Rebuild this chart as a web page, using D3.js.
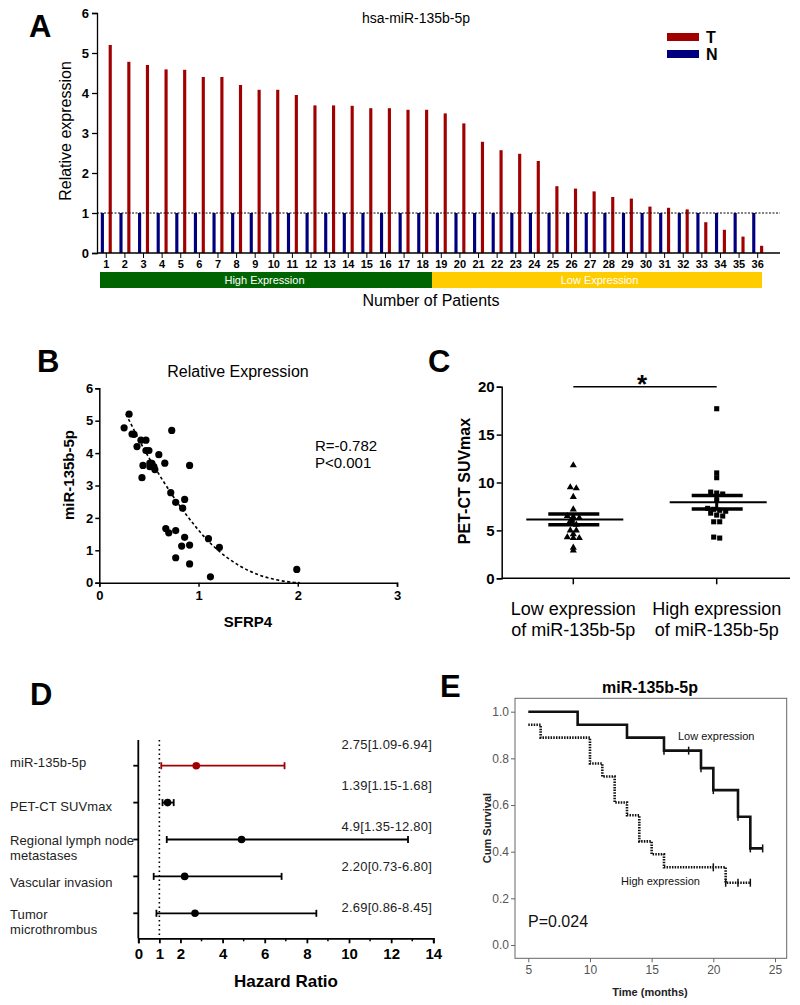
<!DOCTYPE html>
<html>
<head>
<meta charset="utf-8">
<script src="https://cdn.jsdelivr.net/npm/d3@7"></script>
<style>
  body { margin: 0; background: #fff; }
  text { font-family: "Liberation Sans", Arial, sans-serif; }
</style>
</head>
<body>
<script>
// ---------- data ----------
// panel A: relative expression per patient
var patients = d3.range(1, 37).map(String);
var tumorExpr = [5.2, 4.78, 4.7, 4.59, 4.58, 4.4, 4.4, 4.2, 4.08, 4.08, 3.95, 3.69, 3.69, 3.68, 3.62, 3.62, 3.58, 3.58,
                 3.49, 3.24, 2.78, 2.57, 2.48, 2.3, 1.67, 1.61, 1.54, 1.4, 1.36, 1.16, 1.13, 1.09, 0.77, 0.58, 0.41, 0.18];
var normalExpr = patients.map(function(){ return 1; });
var aYTicks = [0, 1, 2, 3, 4, 5, 6];

// panel B: SFRP4 vs miR-135b-5p
var sfrp4 = [0.30, 0.25, 0.73, 0.33, 0.35, 0.42, 0.47, 0.38, 0.47, 0.50, 0.60, 0.66, 0.51, 0.53, 0.44, 0.91, 0.51, 0.55,
             0.56, 0.43, 0.72, 0.86, 0.77, 0.84, 0.67, 0.77, 0.70, 0.86, 1.10, 0.91, 0.83, 1.21, 0.77, 0.91, 1.99, 1.12];
var mirB = tumorExpr;
var fitCurve = [[0.27, 5.2], [0.4, 4.4], [0.5, 3.85], [0.65, 3.1], [0.8, 2.4], [0.95, 1.8], [1.1, 1.25],
                [1.3, 0.72], [1.5, 0.36], [1.7, 0.13], [1.9, 0.02], [2.02, 0]];

// panel C: SUVmax by group
var groupsC = ["Low expression|of miR-135b-5p", "High expression|of miR-135b-5p"];
var suvLow = [11.8, 9.5, 9.4, 8.5, 7.2, 6.5, 6.4, 6.3, 6.0, 5.6, 5.0, 5.0, 4.6, 4.3, 4.2, 4.2, 3.2, 2.9];
var suvHigh = [17.7, 11.0, 10.5, 9.0, 8.9, 8.8, 8.2, 7.3, 7.2, 7.1, 7.0, 6.8, 6.6, 6.5, 5.9, 5.9, 4.3, 4.2];

// panel D: hazard ratios
var factors = ["miR-135b-5p", "PET-CT SUVmax", "Regional lymph node|metastases", "Vascular invasion", "Tumor|microthrombus"];
var hr = [2.75, 1.39, 4.9, 2.20, 2.69];
var ciLow = [1.09, 1.15, 1.35, 0.73, 0.86];
var ciHigh = [6.94, 1.68, 12.80, 6.80, 8.45];
var hrLabels = ["2.75[1.09-6.94]", "1.39[1.15-1.68]", "4.9[1.35-12.80]", "2.20[0.73-6.80]", "2.69[0.86-8.45]"];

// panel E: Kaplan-Meier
var kmLow = [[5, 1], [9, 0.944], [13, 0.889], [16, 0.833], [19, 0.758], [20, 0.664], [22, 0.55], [23, 0.414], [24, 0.414]];
var kmHigh = [[5, 0.944], [6, 0.889], [10, 0.778], [11, 0.722], [12, 0.611], [13, 0.556], [14, 0.444], [15, 0.389], [16, 0.333], [21, 0.267], [23, 0.267]];
var censLow = [[16, 0.833], [18, 0.833], [19, 0.758], [20, 0.664], [22, 0.55], [23, 0.414], [24, 0.414]];
var censHigh = [[20, 0.333], [21, 0.267], [22, 0.267], [23, 0.267]];

var RED = "#a00000", BLUE = "#00007f";

var svg = d3.select("body").append("svg")
    .attr("width", 800).attr("height", 1005)
    .style("background", "#fff");

function panelLetter(t, x, y){
  svg.append("text").attr("x", x).attr("y", y).text(t)
     .attr("font-size", 31).attr("font-weight", "bold");
}

// ================= panel A =================
panelLetter("A", 29, 37);
var xA = d3.scaleBand().domain(patients).range([97, 767]);
var inner = d3.scaleBand().domain(["N", "T"]).range([-5.5, 5.5]).paddingInner(0.6);
var yA = d3.scaleLinear().domain([0, 6]).range([253, 13]);

var gA = svg.append("g");
patients.forEach(function(p, i){
  var cx = xA(p) + xA.bandwidth() / 2;
  gA.append("rect").attr("x", cx + inner("N")).attr("width", inner.bandwidth())
    .attr("y", yA(normalExpr[i])).attr("height", yA(0) - yA(normalExpr[i])).attr("fill", BLUE);
  gA.append("rect").attr("x", cx + inner("T")).attr("width", inner.bandwidth())
    .attr("y", yA(tumorExpr[i])).attr("height", yA(0) - yA(tumorExpr[i])).attr("fill", RED);
});
// reference line at 1
gA.append("line").attr("x1", 97).attr("x2", 780).attr("y1", yA(1)).attr("y2", yA(1))
  .attr("stroke", "#000").attr("stroke-width", 1).attr("stroke-dasharray", "2,1.5");

var axA = svg.append("g").attr("transform", "translate(97,0)")
  .call(d3.axisLeft(yA).tickValues(aYTicks).tickFormat(d3.format("d")).tickSize(5).tickPadding(3));
axA.selectAll("text").attr("font-size", 13).attr("font-weight", "bold");
axA.selectAll("path,line").attr("stroke", "#000").attr("stroke-width", 1.3);

var axAx = svg.append("g").attr("transform", "translate(0," + yA(0) + ")")
  .call(d3.axisBottom(xA).tickSize(5).tickPadding(2));
axAx.select(".domain").remove();
axAx.append("line").attr("x1", 97).attr("x2", 780).attr("stroke", "#000").attr("stroke-width", 1.3);
axAx.selectAll("text").attr("font-size", 11).attr("font-weight", "bold").attr("fill", "#000")
  .attr("font-family", "'Liberation Sans Narrow', 'Arial Narrow', 'Liberation Sans', Arial");
axAx.selectAll(".tick line").attr("stroke", "#000");

svg.append("text").attr("transform", "translate(71,131) rotate(-90)").attr("text-anchor", "middle")
  .attr("font-size", 16).text("Relative expression");
svg.append("text").attr("x", 416).attr("y", 23).attr("text-anchor", "middle")
  .attr("font-size", 14).text("hsa-miR-135b-5p");

// legend
[["T", RED], ["N", BLUE]].forEach(function(d, i){
  svg.append("rect").attr("x", 667).attr("y", 33 + i * 17).attr("width", 32).attr("height", 8).attr("fill", d[1]);
  svg.append("text").attr("x", 706).attr("y", 43 + i * 17).attr("font-size", 16).attr("font-weight", "bold").text(d[0]);
});

// expression bands
var bandY = 272, bandH = 16;
svg.append("rect").attr("x", xA("1") + 3).attr("y", bandY).attr("width", xA("19") - xA("1") - 3)
  .attr("height", bandH).attr("fill", "#006400");
svg.append("rect").attr("x", xA("19")).attr("y", bandY).attr("width", xA("36") + xA.bandwidth() - 5 - xA("19"))
  .attr("height", bandH).attr("fill", "#ffcc00");
svg.append("text").attr("x", (xA("1") + xA("19")) / 2).attr("y", bandY + 12).attr("text-anchor", "middle")
  .attr("fill", "#fff").attr("font-size", 11).text("High Expression");
svg.append("text").attr("x", (xA("19") + xA("36") + xA.bandwidth()) / 2).attr("y", bandY + 12).attr("text-anchor", "middle")
  .attr("fill", "#fff").attr("font-size", 11).text("Low Expression");
svg.append("text").attr("x", 431).attr("y", 306).attr("text-anchor", "middle")
  .attr("font-size", 16).text("Number of Patients");

// ================= panel B =================
panelLetter("B", 37, 372);
var xB = d3.scaleLinear().domain([0, 3]).range([99.3, 397]);
var yB = d3.scaleLinear().domain([0, 6]).range([582.7, 388.3]);

var axBy = svg.append("g").attr("transform", "translate(" + xB(0) + ",0)")
  .call(d3.axisLeft(yB).ticks(6).tickSize(4).tickPadding(2));
var axBx = svg.append("g").attr("transform", "translate(0," + yB(0) + ")")
  .call(d3.axisBottom(xB).ticks(3).tickSize(4).tickPadding(4));
[axBy, axBx].forEach(function(a){
  a.selectAll("text").attr("font-size", 13).attr("font-weight", "bold");
  a.selectAll("path,line").attr("stroke", "#000").attr("stroke-width", 1.5);
});

svg.append("path").datum(fitCurve)
  .attr("d", d3.line().x(function(d){ return xB(d[0]); }).y(function(d){ return yB(d[1]); }).curve(d3.curveBasis))
  .attr("fill", "none").attr("stroke", "#000").attr("stroke-width", 1.6).attr("stroke-dasharray", "3,2.5");

svg.append("g").selectAll("circle").data(sfrp4).enter().append("circle")
  .attr("cx", function(d){ return xB(d); })
  .attr("cy", function(d, i){ return yB(mirB[i]); })
  .attr("r", 3.6).attr("fill", "#000");

svg.append("text").attr("x", 238).attr("y", 377).attr("text-anchor", "middle").attr("font-size", 16).text("Relative Expression");
svg.append("text").attr("x", 315).attr("y", 451).attr("font-size", 15).text("R=-0.782");
svg.append("text").attr("x", 315).attr("y", 468).attr("font-size", 15).text("P<0.001");
svg.append("text").attr("x", 248).attr("y", 627).attr("text-anchor", "middle").attr("font-size", 15)
  .attr("font-weight", "bold").text("SFRP4");
svg.append("text").attr("transform", "translate(74,475) rotate(-90)").attr("text-anchor", "middle")
  .attr("font-size", 15).attr("font-weight", "bold").text("miR-135b-5p");

// ================= panel C =================
panelLetter("C", 428, 372);
var xC = d3.scalePoint().domain(groupsC).range([573.3, 716.7]);
var yC = d3.scaleLinear().domain([0, 20]).range([578.3, 386.7]);

var axCy = svg.append("g").attr("transform", "translate(501.7,0)")
  .call(d3.axisLeft(yC).tickValues([0, 5, 10, 15, 20]).tickSize(5).tickPadding(2));
axCy.selectAll("text").attr("font-size", 15).attr("font-weight", "bold");
axCy.selectAll("path,line").attr("stroke", "#000").attr("stroke-width", 1.5);
var axCx = svg.append("g").attr("transform", "translate(0," + yC(0) + ")");
axCx.append("line").attr("x1", 501.7).attr("x2", 790).attr("stroke", "#000").attr("stroke-width", 1.5);
groupsC.forEach(function(g){
  axCx.append("line").attr("x1", xC(g)).attr("x2", xC(g)).attr("y1", 0).attr("y2", 6)
    .attr("stroke", "#000").attr("stroke-width", 1.5);
  var t = axCx.append("text").attr("x", xC(g)).attr("y", 37).attr("text-anchor", "middle").attr("font-size", 18);
  g.split("|").forEach(function(s, k){
    t.append("tspan").attr("x", xC(g)).attr("dy", k ? 21 : 0).text(s);
  });
});

function dotOffsets(vals){
  // stack points on the same level side by side
  var rows = d3.group(vals.map(function(v, i){ return {v: v, i: i}; }), function(d){ return Math.round(yC(d.v) / 6); });
  var off = [];
  rows.forEach(function(arr){
    arr.forEach(function(d, k){ off[d.i] = (k - (arr.length - 1) / 2) * 6; });
  });
  return off;
}

[[suvLow, d3.symbolTriangle, 22], [suvHigh, d3.symbolSquare, 26]].forEach(function(s, gi){
  var vals = s[0], cx = xC(groupsC[gi]);
  var off = dotOffsets(vals);
  svg.append("g").selectAll("path").data(vals).enter().append("path")
    .attr("d", d3.symbol().type(s[1]).size(s[2]))
    .attr("transform", function(d, i){ return "translate(" + (cx + off[i]) + "," + yC(d) + ")"; })
    .attr("fill", "#000");
  var m = d3.mean(vals), se = d3.deviation(vals) / Math.sqrt(vals.length);
  svg.append("line").attr("x1", cx - 47).attr("x2", cx + 50).attr("y1", yC(m)).attr("y2", yC(m))
    .attr("stroke", "#000").attr("stroke-width", 2);
  [m - se, m + se].forEach(function(v){
    svg.append("line").attr("x1", cx - 25).attr("x2", cx + 26).attr("y1", yC(v)).attr("y2", yC(v))
      .attr("stroke", "#000").attr("stroke-width", 3.5);
  });
  svg.append("line").attr("x1", cx).attr("x2", cx).attr("y1", yC(m - se)).attr("y2", yC(m + se))
    .attr("stroke", "#000").attr("stroke-width", 3);
});
svg.append("line").attr("x1", xC(groupsC[0])).attr("x2", xC(groupsC[1])).attr("y1", yC(20)).attr("y2", yC(20))
  .attr("stroke", "#000").attr("stroke-width", 1.5);
svg.append("text").attr("x", 642).attr("y", 393).attr("text-anchor", "middle").attr("font-size", 26)
  .attr("font-weight", "bold").text("*");
svg.append("text").attr("transform", "translate(470,481) rotate(-90)").attr("text-anchor", "middle")
  .attr("font-size", 16).attr("font-weight", "bold").text("PET-CT SUVmax");

// ================= panel D =================
panelLetter("D", 30, 705);
var xD = d3.scaleLinear().domain([0, 14]).range([138.3, 433.3]);
var yD = d3.scalePoint().domain(factors).range([765.7, 913.3]);
var yAnn = d3.scalePoint().domain(factors).range([749, 912]);

var axDx = svg.append("g").attr("transform", "translate(0,938.3)")
  .call(d3.axisBottom(xD).tickValues([0, 1, 2, 4, 6, 8, 10, 12, 14]).tickSize(5).tickPadding(5));
axDx.selectAll("text").attr("font-size", 15).attr("font-weight", "bold");
axDx.selectAll("path,line").attr("stroke", "#000").attr("stroke-width", 1.8);
axDx.selectAll(".minor").data([3, 5, 7, 9, 11, 13]).enter().append("line")
  .attr("x1", function(d){ return xD(d); }).attr("x2", function(d){ return xD(d); })
  .attr("y1", 0).attr("y2", 3).attr("stroke", "#000").attr("stroke-width", 1.5);
var axDy = svg.append("g").attr("transform", "translate(138.3,0)");
axDy.append("line").attr("y1", 740).attr("y2", 938.3).attr("stroke", "#000").attr("stroke-width", 1.8);
factors.forEach(function(f){
  axDy.append("line").attr("x1", -5).attr("x2", 0).attr("y1", yD(f)).attr("y2", yD(f))
    .attr("stroke", "#000").attr("stroke-width", 1.8);
});
svg.append("line").attr("x1", xD(1)).attr("x2", xD(1)).attr("y1", 740).attr("y2", 938)
  .attr("stroke", "#000").attr("stroke-width", 1.6).attr("stroke-dasharray", "1.5,3");

var labelDy = [1, 8, 5, 11, 6];
factors.forEach(function(f, i){
  var y = yD(f), col = i === 0 ? RED : "#000";
  svg.append("line").attr("x1", xD(ciLow[i])).attr("x2", xD(ciHigh[i])).attr("y1", y).attr("y2", y)
    .attr("stroke", col).attr("stroke-width", 1.8);
  [ciLow[i], ciHigh[i]].forEach(function(v){
    svg.append("line").attr("x1", xD(v)).attr("x2", xD(v)).attr("y1", y - 3.5).attr("y2", y + 3.5)
      .attr("stroke", col).attr("stroke-width", 1.8);
  });
  svg.append("circle").attr("cx", xD(hr[i])).attr("cy", y).attr("r", 3.8).attr("fill", col);
  svg.append("text").attr("x", 432).attr("y", yAnn(f)).attr("text-anchor", "end")
    .attr("font-size", 13).attr("fill", "#222").attr("letter-spacing", 0.2).text(hrLabels[i]);
  var t = svg.append("text").attr("x", 10).attr("y", y + labelDy[i]).attr("font-size", 13)
    .attr("fill", "#222").attr("letter-spacing", 0.1);
  f.split("|").forEach(function(s, k){
    t.append("tspan").attr("x", 10).attr("dy", k ? 15 : 0).text(s);
  });
});
svg.append("text").attr("x", 286).attr("y", 987).attr("text-anchor", "middle").attr("font-size", 17)
  .attr("font-weight", "bold").text("Hazard Ratio");

// ================= panel E =================
panelLetter("E", 440, 697);
var xE = d3.scaleLinear().domain([5, 25]).range([528.3, 775]);
var yE = d3.scaleLinear().domain([0, 1]).range([945, 711.7]);
svg.append("rect").attr("x", 515).attr("y", 698.3).attr("width", 271.7).attr("height", 260)
  .attr("fill", "none").attr("stroke", "#666").attr("stroke-width", 1);

var axEy = svg.append("g").attr("transform", "translate(515,0)")
  .call(d3.axisLeft(yE).tickValues([0, 0.2, 0.4, 0.6, 0.8, 1.0]).tickFormat(d3.format(".1f")).tickSize(4).tickPadding(2));
var axEx = svg.append("g").attr("transform", "translate(0,958.3)")
  .call(d3.axisBottom(xE).tickValues([5, 10, 15, 20, 25]).tickSize(4).tickPadding(3));
[axEy, axEx].forEach(function(a){
  a.select(".domain").remove();
  a.selectAll("line").attr("stroke", "#666");
  a.selectAll("text").attr("font-size", 12).attr("fill", "#555");
});

var stepLine = d3.line().x(function(d){ return xE(d[0]); }).y(function(d){ return yE(d[1]); }).curve(d3.curveStepAfter);
svg.append("path").datum(kmLow).attr("d", stepLine).attr("fill", "none").attr("stroke", "#111").attr("stroke-width", 2.6);
svg.append("path").datum(kmHigh).attr("d", stepLine).attr("fill", "none").attr("stroke", "#111")
  .attr("stroke-width", 2.6).attr("stroke-dasharray", "1.5,1.2");
censLow.concat(censHigh).forEach(function(d){
  svg.append("line").attr("x1", xE(d[0])).attr("x2", xE(d[0])).attr("y1", yE(d[1]) - 4).attr("y2", yE(d[1]) + 4)
    .attr("stroke", "#111").attr("stroke-width", 1.5);
});

svg.append("text").attr("x", 650).attr("y", 693).attr("text-anchor", "middle").attr("font-size", 16)
  .attr("font-weight", "bold").text("miR-135b-5p");
svg.append("text").attr("x", 678).attr("y", 740).attr("font-size", 11).attr("fill", "#111").text("Low expression");
svg.append("text").attr("x", 621).attr("y", 885).attr("font-size", 11).attr("fill", "#111").text("High expression");
svg.append("text").attr("x", 528).attr("y", 927).attr("font-size", 16).attr("fill", "#111").text("P=0.024");
svg.append("text").attr("x", 650).attr("y", 996).attr("text-anchor", "middle").attr("font-size", 11)
  .attr("font-weight", "bold").attr("fill", "#222").text("Time (months)");
svg.append("text").attr("transform", "translate(491,828) rotate(-90)").attr("text-anchor", "middle")
  .attr("font-size", 11).attr("font-weight", "bold").attr("fill", "#222").text("Cum Survival");
</script>
</body>
</html>
